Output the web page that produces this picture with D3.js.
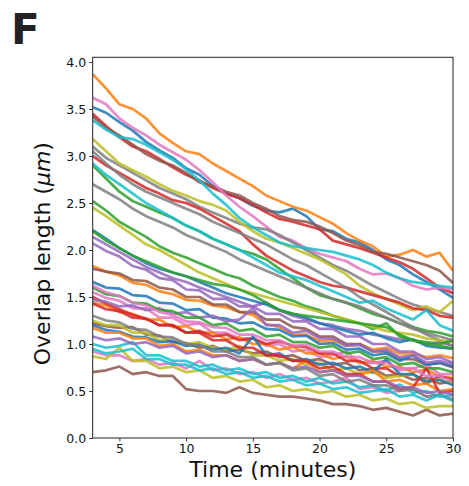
<!DOCTYPE html>
<html>
<head>
<meta charset="utf-8">
<script src="https://cdn.jsdelivr.net/npm/d3@7"></script>
<style>
  body { margin: 0; background: #fff; }
  svg { display: block; }
  text { font-family: "DejaVu Sans", sans-serif; }
</style>
</head>
<body>
<svg id="chart" width="469" height="486"></svg>
<script>
// time in minutes, one sample per minute
var times = [3, 4, 5, 6, 7, 8, 9, 10, 11, 12, 13, 14, 15, 16, 17, 18, 19, 20, 21, 22, 23, 24, 25, 26, 27, 28, 29, 30];

// overlap length (um) of each overlap
var s01 = [3.52, 3.46, 3.36, 3.27, 3.15, 3.06, 2.98, 2.87, 2.80, 2.68, 2.60, 2.55, 2.47, 2.42, 2.40, 2.44, 2.36, 2.22, 2.20, 2.12, 2.08, 2.00, 1.90, 1.84, 1.74, 1.66, 1.58, 1.49];
var s02 = [3.87, 3.72, 3.55, 3.50, 3.40, 3.24, 3.14, 3.05, 3.02, 2.92, 2.84, 2.76, 2.68, 2.58, 2.52, 2.46, 2.42, 2.35, 2.28, 2.18, 2.10, 2.04, 1.93, 1.95, 2.00, 1.93, 1.97, 1.78];
var s03 = [2.90, 2.76, 2.62, 2.52, 2.46, 2.40, 2.34, 2.26, 2.20, 2.12, 2.06, 2.00, 1.96, 1.90, 1.80, 1.70, 1.60, 1.52, 1.48, 1.44, 1.38, 1.32, 1.28, 1.22, 1.18, 1.14, 1.12, 1.08];
var s04 = [3.45, 3.32, 3.20, 3.10, 3.05, 2.97, 2.88, 2.80, 2.74, 2.66, 2.60, 2.55, 2.48, 2.40, 2.33, 2.30, 2.26, 2.22, 2.10, 2.06, 2.02, 1.97, 1.92, 1.87, 1.80, 1.70, 1.60, 1.54];
var s05 = [2.14, 2.06, 1.98, 1.90, 1.82, 1.76, 1.70, 1.66, 1.60, 1.55, 1.50, 1.45, 1.40, 1.44, 1.36, 1.30, 1.26, 1.22, 1.20, 1.16, 1.14, 1.10, 1.08, 1.05, 1.04, 1.00, 1.02, 0.98];
var s06 = [3.42, 3.30, 3.22, 3.12, 3.02, 2.95, 2.90, 2.82, 2.72, 2.68, 2.62, 2.58, 2.50, 2.44, 2.36, 2.32, 2.30, 2.25, 2.18, 2.10, 2.05, 1.98, 1.96, 1.92, 1.88, 1.84, 1.78, 1.65];
var s07 = [3.62, 3.55, 3.40, 3.30, 3.22, 3.12, 3.04, 2.96, 2.85, 2.72, 2.58, 2.46, 2.36, 2.25, 2.14, 2.10, 2.02, 1.96, 1.92, 1.88, 1.80, 1.74, 1.75, 1.70, 1.62, 1.58, 1.60, 1.58];
var s08 = [3.10, 2.98, 2.90, 2.82, 2.74, 2.66, 2.60, 2.54, 2.46, 2.40, 2.34, 2.28, 2.24, 2.22, 2.16, 2.08, 2.00, 1.92, 1.84, 1.78, 1.70, 1.62, 1.55, 1.48, 1.42, 1.38, 1.34, 1.30];
var s09 = [3.18, 3.05, 2.92, 2.85, 2.78, 2.70, 2.63, 2.58, 2.52, 2.48, 2.42, 2.30, 2.20, 2.12, 2.08, 2.02, 1.96, 1.90, 1.82, 1.74, 1.62, 1.54, 1.48, 1.42, 1.36, 1.40, 1.34, 1.46];
var s10 = [3.38, 3.28, 3.20, 3.18, 3.12, 3.04, 2.96, 2.86, 2.74, 2.60, 2.48, 2.34, 2.24, 2.16, 2.08, 2.04, 2.02, 2.00, 1.98, 1.94, 1.90, 1.84, 1.76, 1.70, 1.66, 1.64, 1.62, 1.60];

var s11 = [2.21, 2.12, 2.02, 1.94, 1.86, 1.80, 1.76, 1.72, 1.66, 1.60, 1.54, 1.50, 1.46, 1.42, 1.36, 1.32, 1.28, 1.22, 1.18, 1.14, 1.10, 1.12, 1.06, 1.02, 1.05, 0.98, 0.96, 0.95];
var s12 = [1.83, 1.77, 1.73, 1.65, 1.63, 1.56, 1.53, 1.47, 1.46, 1.41, 1.39, 1.34, 1.31, 1.21, 1.18, 1.10, 1.10, 1.03, 1.04, 0.98, 1.00, 0.94, 0.96, 0.90, 0.90, 0.86, 0.88, 0.85];
var s13 = [2.52, 2.42, 2.30, 2.22, 2.14, 2.04, 1.97, 1.92, 1.86, 1.80, 1.74, 1.70, 1.62, 1.56, 1.50, 1.46, 1.40, 1.36, 1.30, 1.26, 1.22, 1.16, 1.22, 1.08, 1.04, 1.00, 0.98, 0.95];
var s14 = [3.00, 2.90, 2.82, 2.74, 2.66, 2.60, 2.53, 2.50, 2.44, 2.36, 2.28, 2.20, 2.06, 1.94, 1.86, 1.78, 1.72, 1.66, 1.62, 1.60, 1.56, 1.52, 1.48, 1.44, 1.38, 1.36, 1.30, 1.28];
var s15 = [2.07, 1.99, 1.93, 1.83, 1.79, 1.70, 1.68, 1.58, 1.57, 1.48, 1.48, 1.40, 1.40, 1.32, 1.32, 1.24, 1.24, 1.16, 1.16, 1.08, 1.08, 1.00, 1.00, 0.92, 0.92, 0.84, 0.86, 0.80];
var s16 = [1.80, 1.77, 1.75, 1.68, 1.67, 1.60, 1.58, 1.50, 1.50, 1.42, 1.42, 1.34, 1.34, 1.26, 1.26, 1.18, 1.16, 1.08, 1.08, 1.00, 1.00, 0.92, 0.92, 0.84, 0.84, 0.78, 0.80, 0.75];
var s17 = [1.55, 1.49, 1.46, 1.38, 1.38, 1.28, 1.28, 1.20, 1.22, 1.12, 1.12, 1.06, 1.06, 0.98, 1.00, 0.92, 0.94, 0.86, 0.88, 0.92, 0.80, 0.80, 0.82, 0.72, 0.74, 0.78, 0.68, 0.68];
var s18 = [3.05, 2.92, 2.80, 2.70, 2.62, 2.56, 2.50, 2.44, 2.38, 2.30, 2.24, 2.18, 2.12, 2.06, 1.98, 1.90, 1.84, 1.76, 1.68, 1.60, 1.50, 1.42, 1.34, 1.26, 1.18, 1.10, 1.04, 0.98];
var s19 = [2.45, 2.36, 2.26, 2.16, 2.06, 2.00, 1.92, 1.84, 1.76, 1.70, 1.64, 1.58, 1.54, 1.50, 1.46, 1.42, 1.38, 1.34, 1.30, 1.26, 1.22, 1.18, 1.14, 1.12, 1.10, 1.06, 1.04, 1.02];
var s20 = [2.92, 2.80, 2.70, 2.60, 2.50, 2.42, 2.34, 2.26, 2.20, 2.12, 2.06, 2.00, 1.92, 1.84, 1.76, 1.72, 1.68, 1.62, 1.56, 1.50, 1.44, 1.46, 1.38, 1.32, 1.26, 1.36, 1.20, 1.14];

var s21 = [1.66, 1.60, 1.59, 1.52, 1.51, 1.44, 1.43, 1.36, 1.37, 1.28, 1.27, 1.22, 1.23, 1.16, 1.15, 1.08, 1.09, 1.00, 1.01, 0.94, 0.95, 0.88, 0.90, 0.82, 0.88, 0.78, 0.80, 0.76];
var s22 = [1.44, 1.41, 1.34, 1.32, 1.26, 1.26, 1.18, 1.19, 1.12, 1.12, 1.05, 1.07, 1.00, 1.00, 0.94, 0.97, 0.90, 0.90, 0.84, 0.87, 0.80, 0.82, 0.76, 0.76, 0.70, 0.73, 0.65, 0.64];
var s23 = [2.20, 2.10, 2.02, 1.94, 1.88, 1.82, 1.76, 1.72, 1.68, 1.64, 1.62, 1.58, 1.52, 1.44, 1.36, 1.32, 1.30, 1.28, 1.26, 1.24, 1.22, 1.20, 1.18, 1.10, 1.04, 1.02, 1.00, 1.04];
var s24 = [1.50, 1.43, 1.37, 1.31, 1.27, 1.20, 1.20, 1.12, 1.14, 1.08, 1.10, 1.04, 1.06, 1.00, 1.03, 0.98, 0.97, 0.90, 0.90, 0.82, 0.82, 0.74, 0.74, 0.66, 0.68, 0.58, 0.66, 0.62];
var s25 = [1.47, 1.45, 1.40, 1.41, 1.36, 1.38, 1.32, 1.34, 1.28, 1.30, 1.24, 1.26, 1.38, 1.20, 1.20, 1.12, 1.14, 1.06, 1.06, 0.98, 0.99, 0.92, 0.94, 0.86, 0.88, 0.80, 0.82, 0.78];
var s26 = [1.22, 1.19, 1.17, 1.18, 1.10, 1.09, 1.02, 1.01, 0.96, 0.98, 0.92, 0.94, 0.90, 0.92, 0.86, 0.88, 0.82, 0.84, 0.78, 0.80, 0.72, 0.74, 0.66, 0.68, 0.62, 0.64, 0.58, 0.60];
var s27 = [0.92, 0.88, 0.88, 0.82, 0.84, 0.78, 0.80, 0.74, 0.82, 0.72, 0.74, 0.68, 0.70, 0.64, 0.68, 0.62, 0.64, 0.58, 0.60, 0.64, 0.52, 0.54, 0.48, 0.50, 0.52, 0.44, 0.46, 0.42];
var s28 = [2.70, 2.62, 2.54, 2.44, 2.36, 2.30, 2.24, 2.16, 2.10, 2.04, 1.98, 1.90, 1.84, 1.78, 1.72, 1.66, 1.60, 1.54, 1.48, 1.44, 1.40, 1.34, 1.28, 1.22, 1.16, 1.12, 1.08, 1.04];
var s29 = [1.25, 1.20, 1.20, 1.12, 1.12, 1.04, 1.06, 1.00, 1.02, 0.96, 0.94, 0.98, 0.88, 0.88, 0.82, 0.84, 0.78, 0.80, 0.72, 0.74, 0.68, 0.70, 0.64, 0.66, 0.68, 0.60, 0.62, 0.58];
var s30 = [1.00, 0.96, 0.98, 1.02, 0.88, 0.88, 0.82, 0.82, 0.76, 0.78, 0.72, 0.74, 0.68, 0.70, 0.64, 0.66, 0.60, 0.64, 0.58, 0.60, 0.54, 0.56, 0.50, 0.57, 0.48, 0.50, 0.44, 0.46];

var s31 = [1.20, 1.15, 1.13, 1.08, 1.07, 1.02, 1.03, 0.98, 0.99, 0.94, 0.96, 0.90, 1.08, 0.88, 0.90, 0.82, 0.84, 0.78, 0.80, 0.74, 0.76, 0.70, 0.84, 0.68, 0.68, 0.60, 0.62, 0.56];
var s32 = [1.17, 1.12, 1.12, 1.06, 1.06, 0.98, 1.00, 0.92, 0.94, 0.88, 0.88, 0.82, 0.84, 0.78, 0.80, 0.74, 0.82, 0.70, 0.72, 0.66, 0.68, 0.72, 0.60, 0.62, 0.56, 0.58, 0.50, 0.52];
var s33 = [1.60, 1.53, 1.51, 1.44, 1.43, 1.36, 1.35, 1.28, 1.28, 1.20, 1.22, 1.14, 1.16, 1.08, 1.10, 1.02, 1.02, 0.96, 0.98, 0.90, 0.92, 0.84, 0.86, 0.78, 0.80, 0.74, 0.74, 0.70];
var s34 = [1.43, 1.37, 1.35, 1.28, 1.27, 1.20, 1.20, 1.12, 1.12, 1.04, 1.04, 0.96, 0.96, 0.88, 0.88, 0.82, 0.82, 0.74, 0.76, 0.68, 0.68, 0.60, 0.60, 0.52, 0.54, 0.74, 0.48, 0.50];
var s35 = [1.08, 1.04, 1.06, 1.00, 1.02, 0.96, 0.98, 0.90, 0.92, 0.86, 0.88, 0.82, 0.84, 0.78, 0.80, 0.74, 0.76, 0.70, 0.72, 0.66, 0.66, 0.60, 0.60, 0.54, 0.54, 0.48, 0.50, 0.46];
var s36 = [0.70, 0.72, 0.76, 0.68, 0.70, 0.66, 0.66, 0.52, 0.50, 0.50, 0.48, 0.54, 0.48, 0.46, 0.44, 0.44, 0.42, 0.40, 0.36, 0.36, 0.34, 0.30, 0.32, 0.28, 0.24, 0.30, 0.24, 0.26];
var s37 = [1.62, 1.55, 1.51, 1.44, 1.41, 1.34, 1.31, 1.24, 1.23, 1.18, 1.17, 1.10, 1.10, 1.04, 1.04, 0.98, 0.99, 0.92, 0.92, 0.86, 0.86, 0.80, 0.80, 0.74, 0.74, 0.66, 0.66, 0.60];
var s38 = [1.30, 1.25, 1.23, 1.16, 1.15, 1.08, 1.07, 1.00, 0.99, 0.92, 0.92, 0.86, 0.86, 0.78, 0.80, 0.72, 0.74, 0.66, 0.68, 0.60, 0.62, 0.56, 0.56, 0.50, 0.52, 0.44, 0.46, 0.40];
var s39 = [0.87, 0.84, 0.96, 0.82, 0.82, 0.74, 0.76, 0.70, 0.72, 0.64, 0.66, 0.60, 0.62, 0.54, 0.56, 0.50, 0.52, 0.48, 0.50, 0.44, 0.46, 0.40, 0.42, 0.36, 0.38, 0.32, 0.34, 0.34];
var s40 = [0.95, 0.90, 0.92, 0.95, 0.84, 0.84, 0.78, 0.78, 0.72, 0.74, 0.68, 0.70, 0.64, 0.66, 0.60, 0.62, 0.56, 0.58, 0.52, 0.54, 0.48, 0.50, 0.52, 0.44, 0.46, 0.40, 0.46, 0.40];

var series = [s01, s02, s03, s04, s05, s06, s07, s08, s09, s10,
              s11, s12, s13, s14, s15, s16, s17, s18, s19, s20,
              s21, s22, s23, s24, s25, s26, s27, s28, s29, s30,
              s31, s32, s33, s34, s35, s36, s37, s38, s39, s40];

var xTicks = [5, 10, 15, 20, 25, 30];
var yTicks = [0.0, 0.5, 1.0, 1.5, 2.0, 2.5, 3.0, 3.5, 4.0];

var margin = { top: 57.3, right: 16, bottom: 48, left: 92.7 };
var width = 469 - margin.left - margin.right;
var height = 486 - margin.top - margin.bottom;

var svg = d3.select("#chart");

// panel letter
svg.append("text")
    .attr("x", 11)
    .attr("y", 43.5)
    .attr("font-size", 42)
    .attr("font-weight", "bold")
    .attr("fill", "#222")
    .text("F");

var g = svg.append("g")
    .attr("transform", "translate(" + margin.left + "," + margin.top + ")");

var xScale = d3.scaleLinear().domain([3, 30]).range([0, width]);
var yScale = d3.scaleLinear().domain([0, 4.05]).range([height, 0]);

// clip the traces to the axes box
g.append("clipPath").attr("id", "plot-clip")
    .append("rect").attr("width", width).attr("height", height);

var colors = d3.schemeCategory10;

var line = d3.line()
    .x(function (d, i) { return xScale(times[i]); })
    .y(function (d) { return yScale(d); });

g.append("g").attr("clip-path", "url(#plot-clip)")
    .selectAll("path").data(series)
    .enter().append("path")
    .attr("d", line)
    .attr("fill", "none")
    .attr("stroke", function (d, i) { return colors[i % 10]; })
    .attr("stroke-width", 2.7)
    .attr("stroke-opacity", 0.85)
    .attr("stroke-linejoin", "round");

// axes
var xAxis = g.append("g")
    .attr("transform", "translate(0," + height + ")")
    .call(d3.axisBottom(xScale).tickValues(xTicks).tickSize(3.5).tickPadding(3).tickFormat(d3.format("d")));
var yAxis = g.append("g")
    .call(d3.axisLeft(yScale).tickValues(yTicks).tickSize(3.5).tickPadding(3).tickFormat(d3.format(".1f")));

[xAxis, yAxis].forEach(function (ax) {
    ax.select(".domain").remove();
    ax.selectAll("line").attr("stroke", "#222").attr("stroke-width", 0.9);
    ax.selectAll("text")
        .attr("font-family", "DejaVu Sans, sans-serif")
        .attr("font-size", 12.5)
        .attr("fill", "#111");
});

// frame (all four spines)
g.append("rect")
    .attr("width", width)
    .attr("height", height)
    .attr("fill", "none")
    .attr("stroke", "#222")
    .attr("stroke-width", 1);

// axis labels
svg.append("text")
    .attr("x", margin.left + width / 2)
    .attr("y", 477)
    .attr("text-anchor", "middle")
    .attr("font-size", 22)
    .attr("fill", "#111")
    .text("Time (minutes)");

var yLabel = svg.append("text")
    .attr("transform", "translate(50," + (margin.top + height / 2 + 6) + ") rotate(-90)")
    .attr("text-anchor", "middle")
    .attr("font-size", 22)
    .attr("fill", "#111");
yLabel.append("tspan").text("Overlap length (");
yLabel.append("tspan").attr("font-style", "italic").text("μm");
yLabel.append("tspan").text(")");
</script>
</body>
</html>
